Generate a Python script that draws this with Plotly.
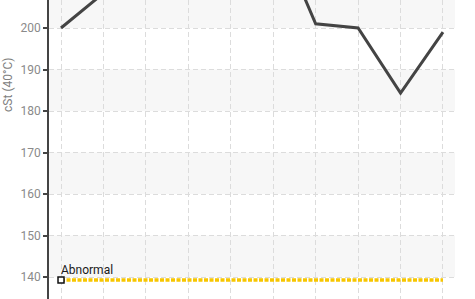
import plotly.graph_objects as go

samples = ["S1", "S2", "S3", "S4", "S5", "S6", "S7", "S8", "S9", "S10"]
viscosity = [200, 208.4, 216, 221, 219, 225, 201, 200, 184.3, 199]
abnormal_level = 139.3
abnormal_label = "Abnormal"
y_ticks = [140, 150, 160, 170, 180, 190, 200]
band_ranges = [(130, 140, False), (140, 150, True), (150, 160, False), (160, 170, True),
               (170, 180, False), (180, 190, True), (190, 200, False), (200, 210, True)]

fig = go.Figure()

fig.add_trace(go.Scatter(
    x=list(range(len(samples))), y=[abnormal_level] * len(samples),
    mode="lines", line=dict(color="#f7c600", width=3.5, dash="4px,1.5px"),
    hoverinfo="skip", showlegend=False))
fig.add_trace(go.Scatter(
    x=[0], y=[abnormal_level], mode="markers",
    marker=dict(symbol="square", size=6, color="white", line=dict(color="#111", width=1.5)),
    showlegend=False))
fig.add_trace(go.Scatter(
    x=list(range(len(samples))), y=viscosity, mode="lines",
    line=dict(color="#444444", width=3), showlegend=False))

shapes = []
for y0, y1, gray in band_ranges:
    if gray:
        shapes.append(dict(type="rect", xref="paper", x0=0, x1=1, yref="y", y0=y0, y1=y1,
                           fillcolor="#f7f7f7", line=dict(width=0), layer="below"))

fig.update_layout(
    width=475, height=299,
    margin=dict(l=49, r=20, t=0, b=0, autoexpand=False),
    plot_bgcolor="white", paper_bgcolor="white",
    shapes=shapes,
    font=dict(family="Roboto, sans-serif", size=12, color="#888"),
    xaxis=dict(range=[-0.283, 9.283], showticklabels=False, showgrid=True,
               gridcolor="#dcdcdc", griddash="5px,3px", gridwidth=1, automargin=False,
               tickmode="array", tickvals=list(range(len(samples))),
               zeroline=False, showline=False, ticks=""),
    yaxis=dict(range=[134.7, 206.75], tickvals=y_ticks, showgrid=True, automargin=False,
               gridcolor="#dcdcdc", griddash="5px,3px", gridwidth=1,
               showline=True, linecolor="#444", linewidth=1.5,
               ticks="outside", ticklen=4, tickcolor="#444", tickwidth=1.5,
               zeroline=False, tickfont=dict(size=12, color="#8a8a8a")),
    annotations=[
        dict(text=abnormal_label, x=0, y=abnormal_level, xref="x", yref="y",
             xanchor="left", yanchor="bottom", yshift=1, xshift=-2, showarrow=False,
             font=dict(size=12, color="#1a1a1a", family="Roboto, sans-serif")),
        dict(text="cSt (40°C)", x=-0.101, y=0.716, xref="paper", yref="paper",
             textangle=-90, showarrow=False, xanchor="center", yanchor="middle",
             font=dict(size=12, color="#808080")),
    ],
)

fig.write_html("out.html", config={"displayModeBar": False},
               post_script="document.body.style.margin='0';document.body.style.overflow='hidden';")
